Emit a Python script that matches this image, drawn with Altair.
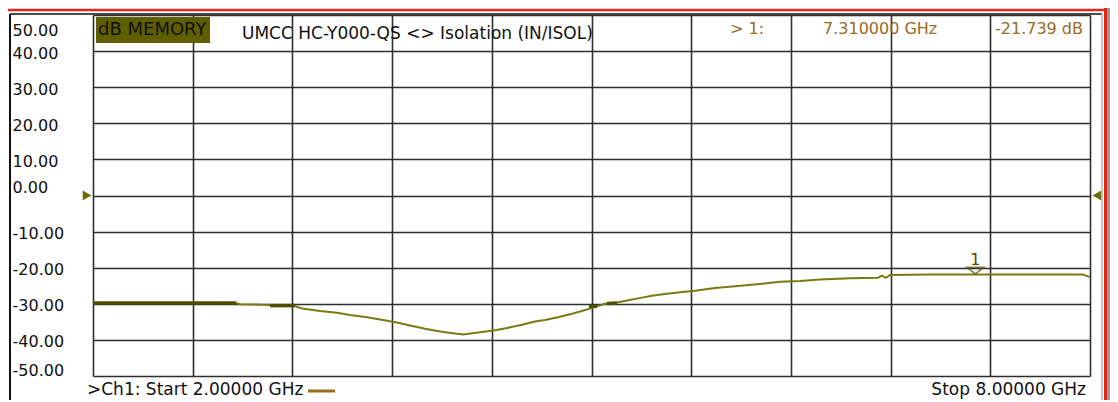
import altair as alt
import pandas as pd

# ---------------- data ----------------
freq_ghz = [2.000, 2.861, 2.885, 3.065, 3.204, 3.258, 3.366, 3.468, 3.547, 3.649,
            3.745, 3.830, 3.908, 3.998, 4.106, 4.227, 4.341, 4.419, 4.492, 4.582,
            4.660, 4.720, 4.798, 4.889, 4.973, 5.033, 5.081, 5.141, 5.214, 5.280,
            5.364, 5.442, 5.533, 5.623, 5.743, 5.864, 6.014, 6.135, 6.255, 6.375,
            6.556, 6.724, 6.748, 6.772, 6.796, 7.037, 7.699, 7.958, 8.000]
trace_db = [-29.8, -29.8, -30.1, -30.3, -30.5, -31.3, -32.0, -32.5, -33.1, -33.75,
            -34.5, -35.2, -36.0, -36.9, -37.8, -38.5, -37.8, -37.3, -36.7, -35.8,
            -34.9, -34.5, -33.75, -32.7, -31.6, -30.7, -30.0, -29.8, -29.1, -28.5,
            -27.8, -27.3, -26.8, -26.4, -25.6, -25.15, -24.5, -23.9, -23.7, -23.3,
            -22.9, -22.8, -22.2, -22.8, -22.0, -21.9, -21.9, -21.9, -22.6]

mem_segment = ["A", "A", "B", "B", "C", "C", "D", "D"]
mem_freq = [2.000, 2.861, 3.065, 3.216, 4.985, 5.033, 5.093, 5.153]
mem_db = [-29.8, -29.8, -30.5, -30.5, -30.7, -30.7, -29.9, -29.8]

x_grid = [2.0, 2.6, 3.2, 3.8, 4.4, 5.0, 5.6, 6.2, 6.8, 7.4, 8.0]
y_ticks = [-50, -40, -30, -20, -10, 0, 10, 20, 30, 40, 50]

marker_id = 1
marker_freq = 7.31
marker_db = -21.739
ref_level_db = 0
start_ghz = 2.0
stop_ghz = 8.0
title_text = "UMCC  HC-Y000-QS <> Isolation (IN/ISOL)"
format_text = "dB MEMORY"

# ---------------- styling ----------------
FONT = "DejaVu Sans"
OLIVE = "#7a7a14"
OLIVE_DARK = "#4f4f00"
BOX = "#5f5f00"
BROWN = "#9a6a1e"
GRID = "#2e2e2e"
W, H = 997, 361

trace_df = pd.DataFrame({"f": freq_ghz, "db": trace_db})
mem_df = pd.DataFrame({"seg": mem_segment, "f": mem_freq, "db": mem_db})
mk_df = pd.DataFrame({"f": [marker_freq], "db": [marker_db], "id": [str(marker_id)]})
one = pd.DataFrame({"a": [0]})

xs = alt.Scale(domain=[2, 8], nice=False, zero=False)
ys = alt.Scale(domain=[-50, 50], nice=False, zero=False)

x_axis = alt.Axis(values=x_grid, tickCount=len(x_grid) + 1, grid=True, labels=False,
                  ticks=False, domain=False, title=None, gridColor=GRID, gridWidth=1.6,
                  gridOpacity=1)
y_axis = alt.Axis(values=y_ticks, tickCount=len(y_ticks) + 1, grid=True, ticks=False,
                  tickSize=0, domain=False, labelOverlap=False,
                  title=None, gridColor=GRID, gridWidth=1.6, gridOpacity=1,
                  labelAlign="left", labelPadding=81, labelFont=FONT, labelFontSize=16,
                  labelColor="#111111", labelBaseline="middle",
                  labelExpr="(datum.value < 0 ? '-' : '') + format(abs(datum.value), '.2f')",
                  labelOffset={"condition": [{"test": "datum.value == 50", "value": 15},
                                             {"test": "datum.value == 0", "value": -8},
                                             {"test": "datum.value == -50", "value": -6}],
                               "value": 2})

trace = alt.Chart(trace_df).mark_line(color=OLIVE, strokeWidth=2).encode(
    x=alt.X("f:Q", scale=xs, axis=x_axis),
    y=alt.Y("db:Q", scale=ys, axis=y_axis),
)
mem = alt.Chart(mem_df).mark_line(color=OLIVE_DARK, strokeWidth=3.5).encode(
    x=alt.X("f:Q", scale=xs), y=alt.Y("db:Q", scale=ys), detail="seg:N"
)
marker = alt.Chart(mk_df).mark_point(
    shape="M-1,-0.8L1,-0.8L0,0Z", size=289, filled=False, color=OLIVE_DARK, strokeWidth=1.6
).encode(x=alt.X("f:Q", scale=xs), y=alt.Y("db:Q", scale=ys))
marker_lbl = alt.Chart(mk_df).mark_text(
    font=FONT, fontSize=16, color=OLIVE_DARK, dy=-14, baseline="middle"
).encode(x=alt.X("f:Q", scale=xs), y=alt.Y("db:Q", scale=ys), text="id:N")

ref_l = alt.Chart(one).mark_point(shape="triangle-right", size=100, filled=True,
                                  color="#6b6b00", opacity=1).encode(
    x=alt.value(-6), y=alt.Y(datum=ref_level_db, scale=ys))
ref_r = alt.Chart(one).mark_point(shape="triangle-left", size=100, filled=True,
                                  color="#6b6b00", opacity=1).encode(
    x=alt.value(1004), y=alt.Y(datum=ref_level_db, scale=ys))


def txt(s, x, y, color="#111111", align="left", size=17):
    return alt.Chart(one).mark_text(align=align, baseline="middle", font=FONT,
                                    fontSize=size, color=color).encode(
        x=alt.value(x), y=alt.value(y), text=alt.value(s))


def rule(x, x2, y, y2, color, w):
    return alt.Chart(one).mark_rule(color=color, strokeWidth=w).encode(
        x=alt.value(x), x2=alt.value(x2), y=alt.value(y), y2=alt.value(y2))


box = alt.Chart(one).mark_rect(color=BOX).encode(
    x=alt.value(3), x2=alt.value(117), y=alt.value(2), y2=alt.value(28))
gray_right = alt.Chart(one).mark_rect(color="#9c9c9c").encode(
    x=alt.value(1014), x2=alt.value(1017), y=alt.value(-7), y2=alt.value(392))

layers = [
    trace, mem, marker, marker_lbl, ref_l, ref_r, box,
    txt(format_text, 5, 15, "#111111", size=18),
    txt(title_text, 149, 19),
    txt(f"> {marker_id}:", 637, 14, BROWN, size=16),
    txt(f"{marker_freq:.6f} GHz", 730, 14, BROWN, size=16),
    txt(f"{marker_db:.3f} dB", 990, 14, BROWN, align="right", size=16),
    txt(f">Ch1: Start {start_ghz:.5f} GHz", -6, 375),
    txt(f"Stop {stop_ghz:.5f} GHz", 993, 375, align="right"),
    rule(215, 242, 376, 376, BROWN, 3),
    rule(-85, 1017, -5, -5, "#e2261c", 2.5),
    rule(-83, 1009, -1, -1, "#111111", 1.5),
    rule(-83, -83, -1, 395, "#111111", 2),
    rule(1009, 1009, -1, 395, "#b4b4b4", 1.5),
    rule(1012.5, 1012.5, -7, 395, "#e2261c", 3),
    gray_right,
]

chart = alt.layer(*layers).properties(
    width=W, height=H,
    autosize=alt.AutoSizeParams(type="none"),
    padding={"left": 85, "top": 7, "right": 20, "bottom": 24},
    background="white",
).configure_view(stroke=None)

chart.save("out.html", embed_options={"renderer": "svg", "actions": False})
